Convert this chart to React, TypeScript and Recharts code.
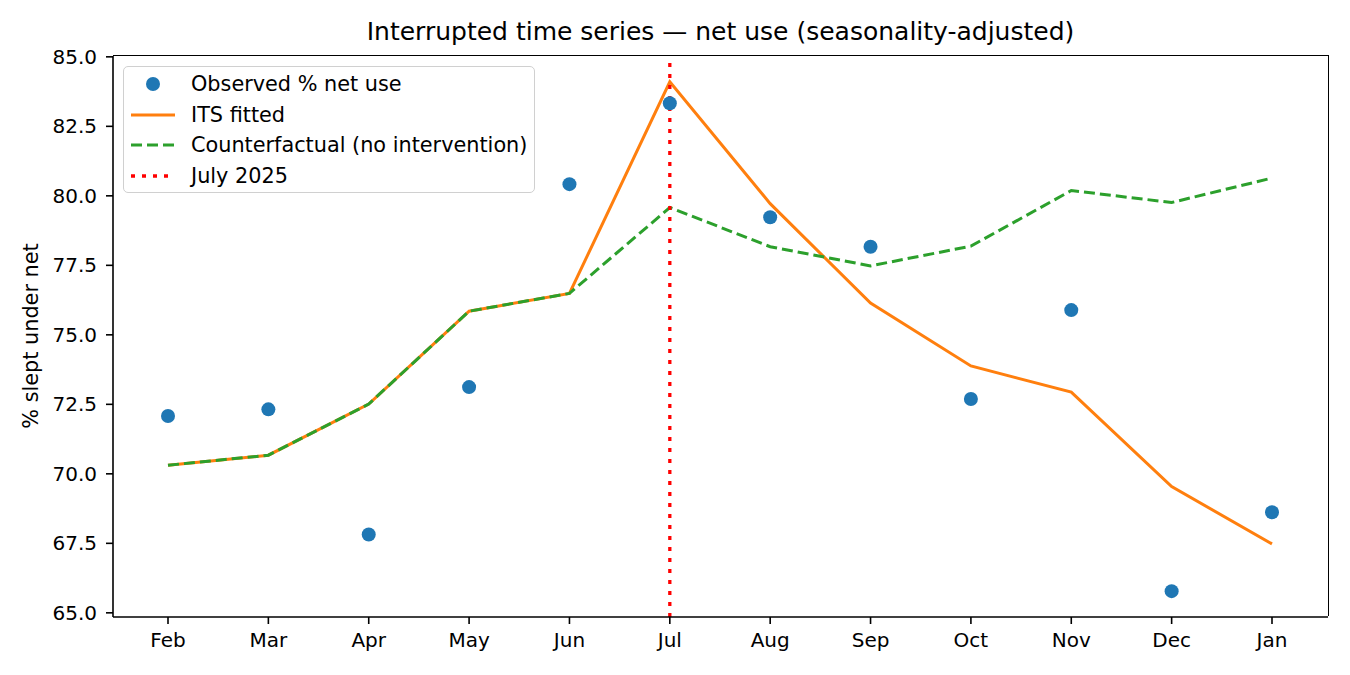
import { LineChart, Line, XAxis, YAxis, ReferenceLine } from 'recharts';

const months = ['Feb', 'Mar', 'Apr', 'May', 'Jun', 'Jul', 'Aug', 'Sep', 'Oct', 'Nov', 'Dec', 'Jan'];
const observed = [72.08, 72.32, 67.82, 73.12, 80.42, 83.33, 79.23, 78.17, 72.69, 75.89, 65.78, 68.62];
const fitted = [70.31, 70.67, 72.51, 75.85, 76.49, 84.1, 79.72, 76.14, 73.88, 72.94, 69.54, 67.48];
const counterfactual = [70.31, 70.67, 72.51, 75.85, 76.49, 79.58, 78.17, 77.48, 78.19, 80.19, 79.76, 80.64];
const yTicks = [65, 67.5, 70, 72.5, 75, 77.5, 80, 82.5, 85];
const interventionMonth = 'Jul';

const data = months.map((m, i) => ({
  month: m,
  observed: observed[i],
  fitted: fitted[i],
  counterfactual: counterfactual[i],
}));

const FONT = '"DejaVu Sans", sans-serif';
const tickStyle = { fill: '#000', fontSize: 20, fontFamily: FONT };

// plot box (matches chart margins below)
const PLOT = { left: 113, top: 56, right: 1328, bottom: 617 };

const legendItems = [
  { label: 'Observed % net use', kind: 'dot', color: '#1f77b4' },
  { label: 'ITS fitted', kind: 'solid', color: '#ff7f0e' },
  { label: 'Counterfactual (no intervention)', kind: 'dashed', color: '#2ca02c' },
  { label: 'July 2025', kind: 'dotted', color: '#ff0000' },
];

function LegendHandle({ kind, color }: { kind: string; color: string }) {
  return (
    <svg width={46} height={20} style={{ display: 'block' }}>
      {kind === 'dot' && <circle cx={23} cy={10} r={7} fill={color} />}
      {kind === 'solid' && <line x1={1} y1={10} x2={45} y2={10} stroke={color} strokeWidth={3} />}
      {kind === 'dashed' && <line x1={1} y1={10} x2={45} y2={10} stroke={color} strokeWidth={3} strokeDasharray="11 5" />}
      {kind === 'dotted' && <line x1={1} y1={10} x2={45} y2={10} stroke={color} strokeWidth={3.3} strokeDasharray="4 7" />}
    </svg>
  );
}

export default function App() {
  return (
    <div style={{ position: 'relative', width: 1350, height: 675, background: '#fff', fontFamily: FONT }}>
      <style>{'body{margin:0}'}</style>

      {/* title */}
      <div style={{ position: 'absolute', left: PLOT.left, width: PLOT.right - PLOT.left, top: 16, textAlign: 'center', fontSize: 25, lineHeight: '32px', color: '#000' }}>
        Interrupted time series — net use (seasonality-adjusted)
      </div>

      {/* y label */}
      <div style={{ position: 'absolute', left: 31, top: 336, width: 0, height: 0 }}>
        <div style={{ position: 'absolute', transform: 'translate(-50%, -50%) rotate(-90deg)', whiteSpace: 'nowrap', fontSize: 20.8, lineHeight: '24px', color: '#000' }}>
          % slept under net
        </div>
      </div>

      <LineChart width={1350} height={675} data={data} margin={{ top: 56, right: 22, bottom: 28, left: 0 }}>
        <XAxis
          dataKey="month"
          type="category"
          scale="point"
          padding={{ left: 55, right: 56 }}
          height={30}
          interval={0}
          tick={tickStyle}
          tickSize={7}
          tickMargin={9}
          axisLine={{ stroke: '#000', strokeWidth: 1.6 }}
          tickLine={{ stroke: '#000', strokeWidth: 1.6 }}
        />
        <YAxis
          type="number"
          domain={[64.85, 85.03]}
          allowDataOverflow
          ticks={yTicks}
          interval={0}
          width={113}
          tick={tickStyle}
          tickSize={7}
          tickMargin={9}
          tickFormatter={(v: number) => v.toFixed(1)}
          axisLine={{ stroke: '#000', strokeWidth: 1.6 }}
          tickLine={{ stroke: '#000', strokeWidth: 1.6 }}
        />
        <Line
          dataKey="observed"
          stroke="none"
          isAnimationActive={false}
          dot={{ r: 7, fill: '#1f77b4', stroke: 'none' }}
          activeDot={false}
        />
        <Line dataKey="fitted" type="linear" stroke="#ff7f0e" strokeWidth={3} dot={false} activeDot={false} isAnimationActive={false} />
        <Line
          dataKey="counterfactual"
          type="linear"
          stroke="#2ca02c"
          strokeWidth={3}
          strokeDasharray="11 5"
          dot={false}
          activeDot={false}
          isAnimationActive={false}
        />
        <ReferenceLine x={interventionMonth} stroke="#ff0000" strokeWidth={3.3} strokeDasharray="4 7" />
      </LineChart>

      {/* top and right spines */}
      <div
        style={{
          position: 'absolute',
          left: PLOT.left,
          top: PLOT.top - 0.8,
          width: PLOT.right - PLOT.left + 0.8,
          height: PLOT.bottom - PLOT.top,
          borderTop: '1.6px solid #000',
          borderRight: '1.6px solid #000',
          boxSizing: 'border-box',
          pointerEvents: 'none',
        }}
      />

      {/* legend */}
      <div
        style={{
          position: 'absolute',
          left: 123,
          top: 66,
          width: 412,
          height: 127,
          border: '1.5px solid #d0d0d0',
          borderRadius: 5,
          background: 'rgba(255,255,255,0.8)',
          boxSizing: 'border-box',
          paddingTop: 2,
        }}
      >
        {legendItems.map((it) => (
          <div key={it.label} style={{ display: 'flex', alignItems: 'center', height: 30.5 }}>
            <div style={{ marginLeft: 6, width: 46 }}>
              <LegendHandle kind={it.kind} color={it.color} />
            </div>
            <span style={{ marginLeft: 15, fontSize: 20.8, color: '#000', whiteSpace: 'nowrap' }}>{it.label}</span>
          </div>
        ))}
      </div>
    </div>
  );
}
